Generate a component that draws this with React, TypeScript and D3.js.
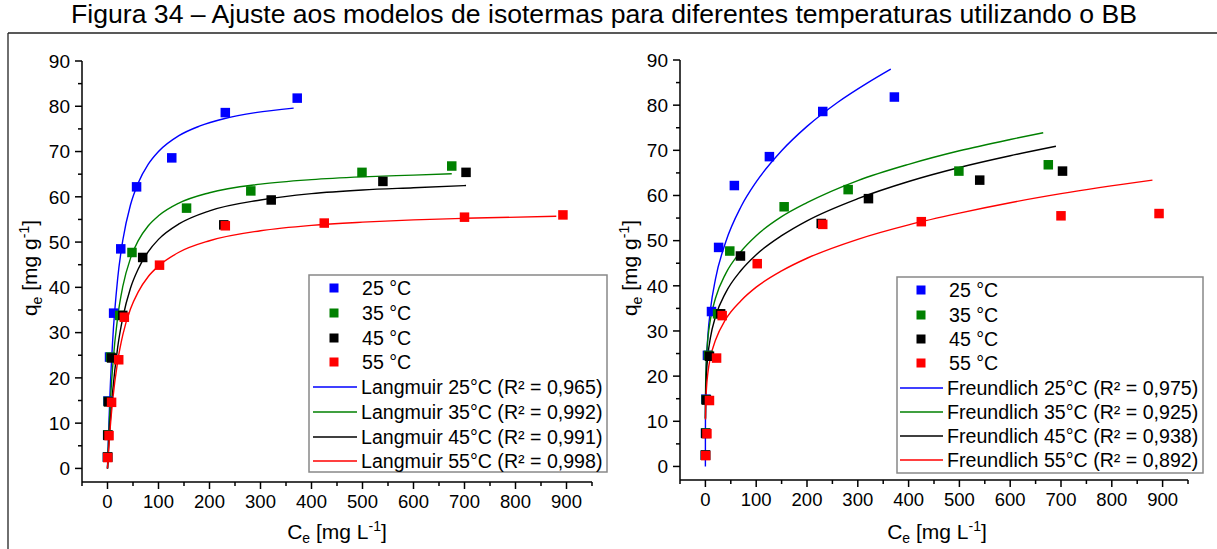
import React from "react";
import * as d3 from "d3";

// ---------- data ----------
const tempLabels = ["25 °C", "35 °C", "45 °C", "55 °C"];
const seriesColors = ["#0000ff", "#008000", "#000000", "#ff0000"];

const ce25 = [0, 0.3, 0.8, 4, 12, 26, 57, 126, 231, 372];
const qe25 = [2.5, 7.4, 14.9, 24.6, 34.3, 48.5, 62.2, 68.6, 78.6, 81.8];
const ce35 = [0.1, 0.5, 1.5, 6, 24, 48, 155, 281, 499, 675];
const qe35 = [2.5, 7.4, 14.8, 24.6, 33.8, 47.7, 57.5, 61.3, 65.4, 66.8];
const ce45 = [0.2, 0.8, 2, 8, 30, 69, 228, 321, 540, 703];
const qe45 = [2.5, 7.3, 14.7, 24.4, 33.8, 46.6, 53.8, 59.3, 63.4, 65.4];
const ce55 = [0.5, 3, 8, 22, 33, 102, 231, 425, 700, 893];
const qe55 = [2.4, 7.25, 14.6, 24.0, 33.4, 44.9, 53.6, 54.2, 55.5, 56.0];

// Langmuir fitted curves
const lang25Ce = [0, 2, 5, 10, 20, 30, 45, 60, 80, 100, 140, 180, 230, 290, 365];
const lang25Qe = [0, 7.64, 16.8, 28, 42, 50.4, 58.2, 63, 67.2, 70, 73.5, 75.6, 77.3, 78.6, 79.6];
const lang35Ce = [0, 2, 5, 10, 20, 30, 45, 60, 80, 100, 140, 200, 300, 400, 500, 600, 675];
const lang35Qe = [0, 6.09, 13.4, 22.3, 33.5, 40.2, 46.4, 50.25, 53.6, 55.8, 58.6, 60.9, 62.8, 63.8, 64.4, 64.8, 65.1];
const lang45Ce = [0, 2, 5, 10, 20, 30, 45, 60, 80, 100, 140, 200, 300, 400, 500, 600, 703];
const lang45Qe = [0, 4.25, 9.68, 16.85, 26.8, 33.3, 39.8, 44.0, 47.9, 50.6, 54.0, 56.9, 59.3, 60.7, 61.5, 62.0, 62.5];
const lang55Ce = [0, 2, 5, 10, 20, 30, 45, 60, 80, 100, 140, 200, 300, 400, 500, 600, 700, 880];
const lang55Qe = [0, 3.76, 8.56, 14.9, 23.7, 29.5, 35.2, 38.95, 42.4, 44.7, 47.75, 50.3, 52.5, 53.7, 54.4, 54.9, 55.25, 55.7];

// Freundlich fitted curves
const freu25Ce = [0, 0.01, 0.1, 0.5, 1, 2, 5, 10, 20, 40, 70, 100, 150, 200, 260, 320, 365];
const freu25Qe = [0, 5.85, 10.6, 16.05, 19.2, 22.96, 29.1, 34.8, 41.6, 49.7, 57.5, 63.0, 69.9, 75.3, 80.6, 85.0, 88.0];
const freu35Ce = [0.03, 0.1, 0.5, 1, 2, 5, 10, 20, 40, 70, 100, 150, 200, 300, 400, 500, 600, 665];
const freu35Qe = [10.5, 13.3, 18.2, 20.8, 23.8, 28.5, 32.6, 37.3, 42.7, 47.6, 51.1, 55.3, 58.4, 63.3, 66.9, 69.9, 72.4, 73.9];
const freu45Ce = [0.1, 0.5, 1, 2, 5, 10, 20, 40, 70, 100, 150, 200, 300, 400, 500, 600, 690];
const freu45Qe = [10.7, 15.1, 17.5, 20.3, 24.7, 28.6, 33.2, 38.5, 43.4, 46.9, 51.1, 54.4, 59.3, 63.1, 66.2, 68.8, 70.9];
const freu55Ce = [0.2, 0.5, 1, 2, 5, 10, 20, 40, 70, 100, 150, 200, 300, 400, 500, 600, 700, 880];
const freu55Qe = [10.4, 12.7, 14.7, 17.1, 20.8, 24.2, 28.0, 32.6, 36.7, 39.7, 43.3, 46.1, 50.3, 53.5, 56.1, 58.4, 60.4, 63.4];

const langmuirLabels = [
  "Langmuir 25°C (R² = 0,965)",
  "Langmuir 35°C (R² = 0,992)",
  "Langmuir 45°C (R² = 0,991)",
  "Langmuir 55°C (R² = 0,998)",
];
const freundlichLabels = [
  "Freundlich 25°C (R² = 0,975)",
  "Freundlich 35°C (R² = 0,925)",
  "Freundlich 45°C (R² = 0,938)",
  "Freundlich 55°C (R² = 0,892)",
];

const xMajorTicks = [0, 100, 200, 300, 400, 500, 600, 700, 800, 900];
const xMinorTicks = [-50, 50, 150, 250, 350, 450, 550, 650, 750, 850, 950];
const yMajorTicks = [0, 10, 20, 30, 40, 50, 60, 70, 80, 90];
const yMinorTicks = [5, 15, 25, 35, 45, 55, 65, 75, 85];

const titleText = "Figura 34 – Ajuste aos modelos de isotermas para diferentes temperaturas utilizando o BB";

const FONT = "'Liberation Sans', Arial, sans-serif";

const pointsCe = [ce25, ce35, ce45, ce55];
const pointsQe = [qe25, qe35, qe45, qe55];

type PanelProps = {
  x0: number; x1: number; y0: number; y1: number;
  curvesCe: number[][]; curvesQe: number[][];
  labels: string[];
  legend: { left: number; top: number; right: number; bottom: number; lineX1: number; lineX2: number; markX: number; textX: number; rows: number[] };
  yLabelX: number;
  xLabelX: number;
};

function Panel(p: PanelProps) {
  const xs = d3.scaleLinear().domain([-50, 950]).range([p.x0, p.x1]);
  const ys = d3.scaleLinear().domain([-3, 90]).range([p.y0, p.y1]);
  const line = d3
    .line<[number, number]>()
    .x((d) => xs(d[0]))
    .y((d) => ys(d[1]))
    .curve(d3.curveMonotoneX);
  const ms = 9.5;
  const L = p.legend;
  return (
    <g>
      {p.curvesCe.map((cArr, i) => (
        <path
          key={"c" + i}
          d={line(cArr.map((c, j) => [c, p.curvesQe[i][j]] as [number, number])) || ""}
          fill="none"
          stroke={seriesColors[i]}
          strokeWidth={1.4}
        />
      ))}
      {pointsCe.map((cArr, i) => (
        <g key={"p" + i} fill={seriesColors[i]}>
          {cArr.map((c, j) => (
            <rect key={j} x={xs(c) - ms / 2} y={ys(pointsQe[i][j]) - ms / 2} width={ms} height={ms} />
          ))}
        </g>
      ))}
      <line x1={p.x0} x2={p.x0} y1={p.y0} y2={p.y1} stroke="#000" strokeWidth={1.5} />
      <line x1={p.x0} x2={p.x1} y1={p.y0} y2={p.y0} stroke="#000" strokeWidth={1.5} />
      {yMajorTicks.map((t) => (
        <g key={"ym" + t}>
          <line x1={p.x0 - 7} x2={p.x0} y1={ys(t)} y2={ys(t)} stroke="#000" strokeWidth={1.5} />
          <text x={p.x0 - 12} y={ys(t) + 6.8} textAnchor="end" fontSize={19} fontFamily={FONT} fill="#000">
            {t}
          </text>
        </g>
      ))}
      {yMinorTicks.map((t) => (
        <line key={"yn" + t} x1={p.x0 - 4} x2={p.x0} y1={ys(t)} y2={ys(t)} stroke="#000" strokeWidth={1.5} />
      ))}
      {xMajorTicks.map((t) => (
        <g key={"xm" + t}>
          <line x1={xs(t)} x2={xs(t)} y1={p.y0} y2={p.y0 + 7} stroke="#000" strokeWidth={1.5} />
          <text x={xs(t)} y={p.y0 + 26} textAnchor="middle" fontSize={18.5} fontFamily={FONT} fill="#000">
            {t}
          </text>
        </g>
      ))}
      {xMinorTicks.map((t) => (
        <line key={"xn" + t} x1={xs(t)} x2={xs(t)} y1={p.y0} y2={p.y0 + 4} stroke="#000" strokeWidth={1.5} />
      ))}
      <text
        transform={`translate(${p.yLabelX},268) rotate(-90)`}
        textAnchor="middle"
        fontSize={21}
        fontFamily={FONT}
        fill="#000"
      >
        q<tspan dy={5} fontSize={14}>e</tspan>
        <tspan dy={-5}> [mg g</tspan>
        <tspan dy={-8} fontSize={14}>-1</tspan>
        <tspan dy={8}>]</tspan>
      </text>
      <text x={p.xLabelX} y={539} textAnchor="middle" fontSize={21} fontFamily={FONT} fill="#000">
        C<tspan dy={4} fontSize={14}>e</tspan>
        <tspan dy={-4}> [mg L</tspan>
        <tspan dy={-8} fontSize={14}>-1</tspan>
        <tspan dy={8}>]</tspan>
      </text>
      <rect x={L.left} y={L.top} width={L.right - L.left} height={L.bottom - L.top} fill="#fff" stroke="#888" strokeWidth={1.5} />
      {tempLabels.map((t, i) => (
        <g key={"lt" + i}>
          <rect x={L.markX - 4.5} y={L.rows[i] - 4.5} width={9} height={9} fill={seriesColors[i]} />
          <text x={L.textX} y={L.rows[i] + 7} fontSize={19.6} fontFamily={FONT} fill="#000">
            {t}
          </text>
        </g>
      ))}
      {p.labels.map((t, i) => (
        <g key={"ll" + i}>
          <line x1={L.lineX1} x2={L.lineX2} y1={L.rows[i + 4]} y2={L.rows[i + 4]} stroke={seriesColors[i]} strokeWidth={1.5} />
          <text x={L.lineX2 + 4} y={L.rows[i + 4] + 7} fontSize={19.6} fontFamily={FONT} fill="#000">
            {t}
          </text>
        </g>
      ))}
    </g>
  );
}

export default function App() {
  return (
    <svg
      width={1217}
      height={549}
      style={{ position: "absolute", left: 0, top: 0, background: "#fff" }}
    >
      <rect x={0} y={0} width={1217} height={549} fill="#fff" />
      <text x={604} y={23} textAnchor="middle" fontSize={26.6} fontFamily={FONT} fill="#000">
        {titleText}
      </text>
      <line x1={8} x2={1217} y1={33} y2={33} stroke="#222" strokeWidth={1.3} />
      <line x1={8} x2={8} y1={33} y2={549} stroke="#222" strokeWidth={1.3} />
      <Panel
        x0={82}
        x1={592}
        y0={482}
        y1={61}
        curvesCe={[lang25Ce, lang35Ce, lang45Ce, lang55Ce]}
        curvesQe={[lang25Qe, lang35Qe, lang45Qe, lang55Qe]}
        labels={langmuirLabels}
        legend={{
          left: 309, top: 275, right: 607, bottom: 472,
          lineX1: 313, lineX2: 357, markX: 334, textX: 362,
          rows: [288, 313, 338, 362, 387, 412, 437, 461],
        }}
        yLabelX={37}
        xLabelX={337}
      />
      <Panel
        x0={680}
        x1={1188}
        y0={480}
        y1={60}
        curvesCe={[freu25Ce, freu35Ce, freu45Ce, freu55Ce]}
        curvesQe={[freu25Qe, freu35Qe, freu45Qe, freu55Qe]}
        labels={freundlichLabels}
        legend={{
          left: 897, top: 277, right: 1203, bottom: 473,
          lineX1: 900, lineX2: 943, markX: 921, textX: 949,
          rows: [290, 315, 339, 363, 388, 412, 436, 460],
        }}
        yLabelX={637}
        xLabelX={937}
      />
    </svg>
  );
}
